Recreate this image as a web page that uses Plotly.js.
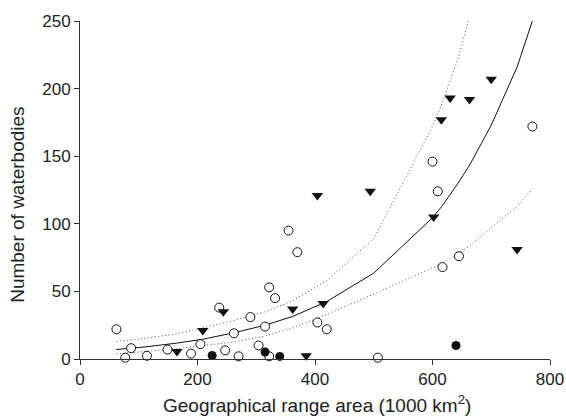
<!DOCTYPE html>
<html>
<head>
<meta charset="utf-8">
<script src="https://cdn.plot.ly/plotly-3.0.1.min.js"></script>
<style>html,body{margin:0;padding:0;background:#fff;}#chart{width:566px;height:417px;}</style>
</head>
<body>
<div id="chart"></div>
<script>
// Open circles
const openX = [62, 77, 87, 114, 149, 189, 205, 237, 247, 262, 270, 290, 304, 315, 322, 322, 332, 355, 370, 404, 420, 507, 600, 609, 617, 645, 770];
const openY = [22, 1, 8, 2.4, 7, 4, 11, 38, 6.4, 19, 2, 31, 10, 24, 2, 53, 45, 95, 79, 27, 22, 1, 146, 124, 68, 76, 172];
// Filled triangles
const triX = [165, 209, 244, 362, 385, 404, 414, 494, 602, 615, 630, 663, 700, 744];
const triY = [5.5, 21, 35, 37, 2.4, 121, 41, 124, 105, 177, 193, 192, 207, 81];
// Filled circles
const dotX = [225, 315, 340, 640];
const dotY = [2.6, 5.2, 1.9, 10];
// Fitted curve and confidence bounds
const fitX = [62, 114, 164, 209, 262, 315, 362, 420, 500, 600, 617, 645, 664, 700, 744, 770];
const fitY = [7, 9.1, 11.7, 14.6, 19.4, 25, 31.5, 42.5, 63.5, 104.5, 113.5, 131, 144, 173, 216, 250];
const upX = [62, 114, 164, 209, 262, 315, 362, 420, 500, 600, 617, 645, 661];
const upY = [13, 15.5, 18.5, 23, 28.5, 35, 43, 58, 89, 172, 190, 224, 250];
const loX = [62, 114, 164, 209, 262, 315, 362, 420, 500, 600, 617, 645, 664, 700, 744, 770];
const loY = [3.8, 5.5, 7.5, 10, 12.5, 17, 23, 33, 48, 67.5, 71, 78, 84, 97, 113, 126];
const xTicks = [0, 200, 400, 600, 800];
const yTicks = [0, 50, 100, 150, 200, 250];

const traces = [
  {x: upX, y: upY, mode: 'lines', line: {color: '#555', width: 1, dash: '1px,2.5px'}, hoverinfo: 'skip'},
  {x: loX, y: loY, mode: 'lines', line: {color: '#555', width: 1, dash: '1px,2.5px'}, hoverinfo: 'skip'},
  {x: fitX, y: fitY, mode: 'lines', line: {color: '#111', width: 1}, hoverinfo: 'skip'},
  {x: openX, y: openY, mode: 'markers', cliponaxis: false,
   marker: {symbol: 'circle', size: 9, color: '#fff', line: {color: '#111', width: 1}}},
  {x: triX, y: triY, mode: 'markers', cliponaxis: false,
   marker: {symbol: 'triangle-down', size: 10, color: '#111', line: {width: 0}}},
  {x: dotX, y: dotY, mode: 'markers', cliponaxis: false,
   marker: {symbol: 'circle', size: 9, color: '#111', line: {width: 0}}}
];

const font = {family: 'Liberation Sans, Arial, sans-serif', size: 17, color: '#222'};
const titleFont = {family: 'Liberation Sans, Arial, sans-serif', size: 19, color: '#222'};
const layout = {
  width: 566, height: 417,
  margin: {l: 80, r: 16, t: 21, b: 58},
  paper_bgcolor: '#fff', plot_bgcolor: '#fff',
  showlegend: false,
  font: font,
  xaxis: {range: [0, 800], tickvals: xTicks, ticks: 'outside', ticklen: 5, tickcolor: '#333',
          showline: true, linecolor: '#333', linewidth: 1, showgrid: false, zeroline: false,
          tickfont: font, fixedrange: true},
  yaxis: {range: [0, 250], tickvals: yTicks, ticks: 'outside', ticklen: 5, tickcolor: '#333',
          showline: true, linecolor: '#333', linewidth: 1, showgrid: false, zeroline: false,
          tickfont: font, fixedrange: true},
  annotations: [
    {text: 'Number of waterbodies', xref: 'paper', yref: 'paper', x: -0.132, y: 0.456,
     textangle: -90, showarrow: false, font: titleFont, xanchor: 'center', yanchor: 'middle'},
    {text: 'Geographical range area (1000 km<sup>2</sup>)', xref: 'paper', yref: 'paper', x: 0.504, y: -0.134,
     showarrow: false, font: titleFont, xanchor: 'center', yanchor: 'middle'}
  ]
};
Plotly.newPlot('chart', traces, layout, {displayModeBar: false, staticPlot: true});
</script>
</body>
</html>
